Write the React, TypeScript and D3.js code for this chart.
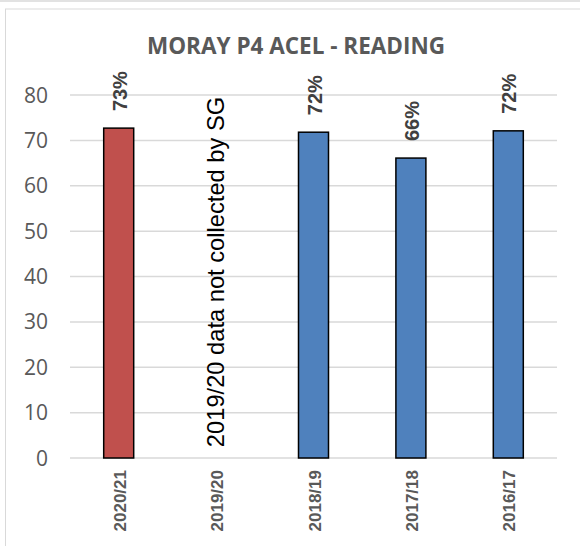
import React from "react";
import * as d3 from "d3";

const categories = ["2020/21", "2019/20", "2018/19", "2017/18", "2016/17"];
const values: (number | null)[] = [72.7, null, 71.8, 66.1, 72.1];
const valueLabels = ["73%", "", "72%", "66%", "72%"];
const barColors = ["#C0504D", "#4F81BD", "#4F81BD", "#4F81BD", "#4F81BD"];
const yTicks = [0, 10, 20, 30, 40, 50, 60, 70, 80];
const title = "MORAY P4 ACEL - READING";
const note = "2019/20 data not collected by SG";

export default function App() {
  const W = 580, H = 546;
  const x = d3.scaleBand().domain(categories).range([70, 557]).paddingInner(0).paddingOuter(0);
  const y = d3.scaleLinear().domain([0, 80]).range([458, 95]);
  const bw = 30;
  const arial = "'Liberation Sans', Arial, sans-serif";
  const open = "'Open Sans', 'Noto Sans', sans-serif";
  return (
    <svg width={W} height={H} style={{ position: "absolute", left: 0, top: 0 }}>
      <rect x={0} y={0} width={W} height={H} fill="#fff" />
      <line x1={0} x2={W} y1={1} y2={1} stroke="#d9d9d9" strokeWidth={1.5} />
      <rect x={5.5} y={9} width={590} height={560} fill="#fff" stroke="#d9d9d9" strokeWidth={1} />
      <text x={296} y={54} textAnchor="middle" fontFamily={open} fontWeight="bold" fontSize={22.5} fill="#595959">{title}</text>
      {yTicks.map(t => (
        <g key={t}>
          <line x1={70} x2={557} y1={y(t)} y2={y(t)} stroke="#d9d9d9" strokeWidth={1.5} />
          <text x={48} y={y(t)} dy="0.36em" textAnchor="end" fontFamily={open} fontSize={21} fill="#595959">{t}</text>
        </g>
      ))}
      {categories.map((c, i) => {
        const cx = (x(c) as number) + x.bandwidth() / 2;
        const v = values[i];
        return (
          <g key={c}>
            {v !== null && (
              <rect x={cx - bw / 2} y={y(v)} width={bw} height={y(0) - y(v)} fill={barColors[i]} stroke="#000" strokeWidth={1.5} />
            )}
            {v !== null && (
              <text transform={`translate(${cx + 8},${y(v) - 17}) rotate(-90)`} textAnchor="start" fontFamily={arial} fontWeight="bold" fontSize={20} fill="#404040">{valueLabels[i]}</text>
            )}
            <text transform={`translate(${cx + 7},470) rotate(-90)`} textAnchor="end" fontFamily={arial} fontWeight="bold" fontSize={17} fill="#595959">{c}</text>
          </g>
        );
      })}
      <text transform={`translate(${(x("2019/20") as number) + x.bandwidth() / 2 + 8},272) rotate(-90)`} textAnchor="middle" fontFamily={arial} fontSize={23.7} fill="#000">{note}</text>
    </svg>
  );
}
